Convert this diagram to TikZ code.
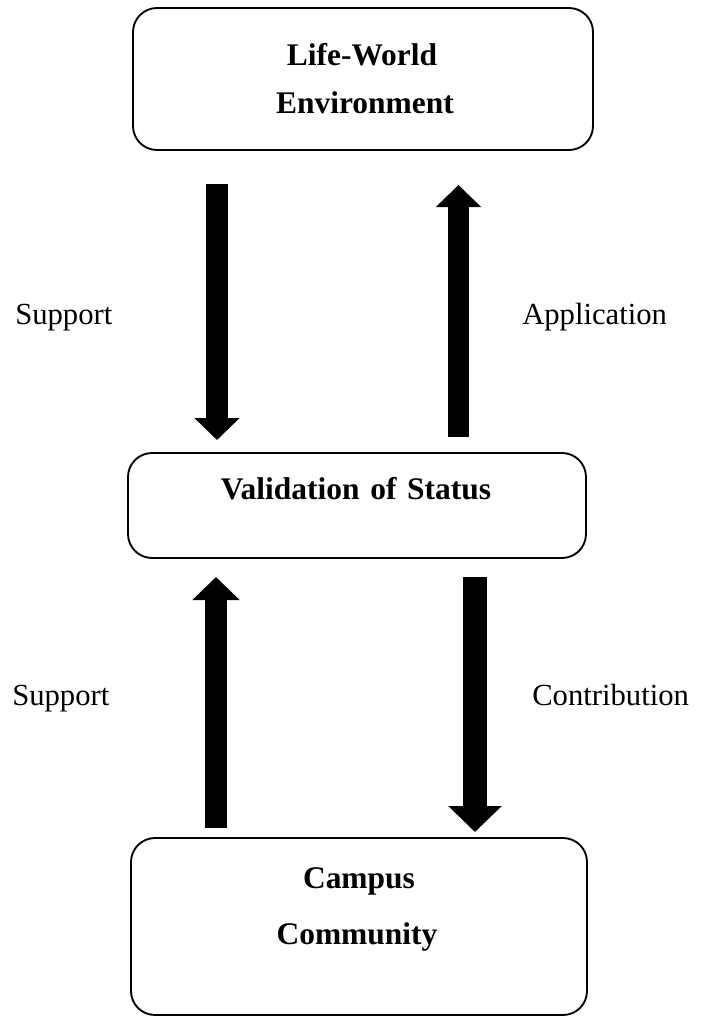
\documentclass[tikz,border=0pt]{standalone}
\usepackage{fontspec}
\setmainfont{Liberation Serif}
\usetikzlibrary{arrows.meta}
\begin{document}
\begin{tikzpicture}[x=0.75pt,y=-0.75pt,
  box/.style={draw, line width=1.4pt, rounded corners=18pt, inner sep=0pt},
  btxt/.style={inner sep=0pt, anchor=base, font=\fontsize{23.6}{27}\selectfont\bfseries},
  lbl/.style={inner sep=0pt, anchor=base west, font=\fontsize{23}{27}\selectfont}
]
\useasboundingbox (0,0) rectangle (700,1017);
% boxes
\node[box, minimum width=345pt, minimum height=106.5pt] (life) at (363,79) {};
\node[box, minimum width=343.5pt, minimum height=78.75pt] (valid) at (357,505.5) {};
\node[box, minimum width=342pt, minimum height=132.75pt] (campus) at (359,926.5) {};
% box texts
\node[btxt] (t1) at (362,65) {Life-World};
\node[btxt] (t2) at (365,113) {Environment};
\node[btxt] (t3) at (356,499) {Validation\hspace{0.34em}of\hspace{0.34em}Status};
\node[btxt] (t4) at (359,888) {Campus};
\node[btxt] (t5) at (357,944) {Community};
% arrow end points
\coordinate (a1s) at (217,184);
\coordinate (a1e) at (217,440);
\coordinate (a2s) at (458.5,437);
\coordinate (a2e) at (458.5,185);
\coordinate (a3s) at (216,828);
\coordinate (a3e) at (216,577);
\coordinate (a4s) at (475,577);
\coordinate (a4e) at (475,832);
\draw[line width=16.5pt, -{Triangle[width=33pt,length=16.5pt]}] (a1s) -- (a1e);
\draw[line width=15.75pt, -{Triangle[width=33pt,length=16.5pt]}] (a2s) -- (a2e);
\draw[line width=16.5pt, -{Triangle[width=34.5pt,length=17.25pt]}] (a3s) -- (a3e);
\draw[line width=18pt, -{Triangle[width=39pt,length=19.5pt]}] (a4s) -- (a4e);
% labels
\node[lbl] (l1) at (15,324) {Support};
\node[lbl] (l2) at (522,324) {Application};
\node[lbl] (l3) at (12,705) {Support};
\node[lbl] (l4) at (532,705) {Contribution};
\end{tikzpicture}
\end{document}
